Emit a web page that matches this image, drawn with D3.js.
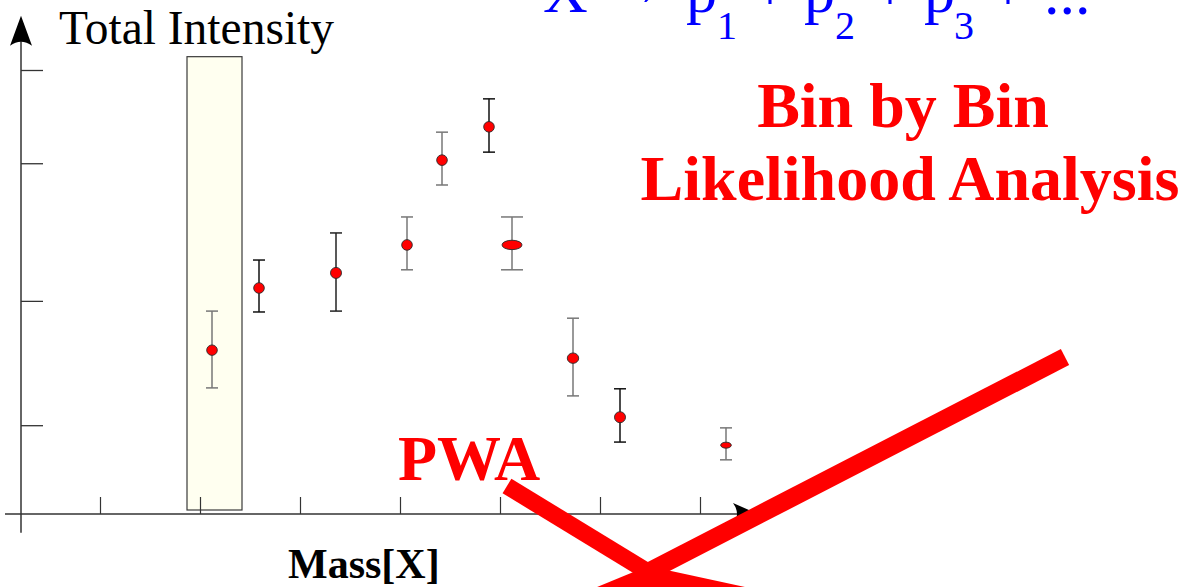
<!DOCTYPE html>
<html>
<head>
<meta charset="utf-8">
<script src="https://cdn.jsdelivr.net/npm/d3@7"></script>
<style>
  html, body { margin: 0; padding: 0; background: #ffffff; }
  svg { display: block; }
</style>
</head>
<body>
<svg id="chart" width="1181" height="587"></svg>
<script>
// Measured intensity per mass bin, with upper / lower error limits
const massBins  = [2.12, 2.59, 3.36, 4.07, 4.42, 4.89, 5.12, 5.73, 6.20, 7.26];
const intensity = [36.9, 50.9, 54.3, 60.6, 79.7, 87.2, 60.6, 35.1, 21.8, 15.5];
const errHigh   = [45.7, 57.2, 63.3, 66.9, 86.0, 93.5, 66.9, 44.1, 28.2, 19.4];
const errLow    = [28.4, 45.5, 45.7, 55.0, 74.1, 81.5, 55.0, 26.6, 16.2, 12.2];

// The single bin singled out for the fit
const selectedBin = [1.87, 2.42];
const selectedTop = 103;

// Axis ticks (unlabelled)
const xTicks = [1, 2, 3, 4, 5, 6, 7];
const yTicks = [20, 48, 79, 100];

const svg = d3.select("#chart");
const serif = "'Liberation Serif', 'Times New Roman', Times, serif";

const x = d3.scaleLinear().domain([0, 7]).range([0, 700]);
const y = d3.scaleLinear().domain([0, 100]).range([514, 70]);

// Marker styling per point
const markerRx  = [5.3, 5.3, 5.5, 5.3, 5.3, 5.3, 10, 5.7, 5.5, 5.3];
const markerRy  = [5.2, 5.3, 5.5, 5.3, 5.3, 5.3, 4.7, 5.2, 5.5, 3];
const capHalf   = [6, 6, 6, 6, 6, 6, 11, 6, 6, 6];
const barColour = ["#777", "#111", "#222", "#777", "#777", "#111", "#777", "#777", "#111", "#777"];

// Highlighted bin
svg.append("rect")
  .attr("x", x(selectedBin[0]))
  .attr("y", y(selectedTop))
  .attr("width", x(selectedBin[1]) - x(selectedBin[0]))
  .attr("height", y(0.9) - y(selectedTop))
  .attr("fill", "#fffff0")
  .attr("stroke", "#3a3a3a")
  .attr("stroke-width", 1.2);

// Axis lines
svg.append("line")
  .attr("x1", x(0.05)).attr("x2", x(7.42))
  .attr("y1", y(0)).attr("y2", y(0))
  .attr("stroke", "#333").attr("stroke-width", 1.5);
svg.append("line")
  .attr("x1", x(0.21)).attr("x2", x(0.21))
  .attr("y1", y(-4.2)).attr("y2", y(106.5))
  .attr("stroke", "#333").attr("stroke-width", 1.5);

// Ticks via d3 axes, labels suppressed
const xAxis = svg.append("g")
  .attr("transform", `translate(0,${y(0)})`)
  .call(d3.axisBottom(x).tickValues(xTicks).tickSize(-17).tickFormat(""));
xAxis.select(".domain").remove();
xAxis.selectAll(".tick line").attr("stroke", "#333").attr("stroke-width", 1.2);

const yAxis = svg.append("g")
  .attr("transform", `translate(${x(0.21)},0)`)
  .call(d3.axisRight(y).tickValues(yTicks).tickSize(22).tickFormat(""));
yAxis.select(".domain").remove();
yAxis.selectAll(".tick line").attr("stroke", "#333").attr("stroke-width", 1.3);

// Arrowheads with a concave back
const ax = x(0.21), atip = y(112.2);
svg.append("path")
  .attr("d", `M${ax},${atip} L${ax + 11},${atip + 30} Q${ax},${atip + 22} ${ax - 11},${atip + 30} Z`)
  .attr("fill", "#000");
const xtip = x(7.58), xy0 = y(0);
svg.append("path")
  .attr("d", `M${xtip},${xy0} L${xtip - 25},${xy0 - 11} Q${xtip - 17},${xy0} ${xtip - 25},${xy0 + 11} Z`)
  .attr("fill", "#000");

// Error bars
const pts = massBins.map((m, i) => ({ m, v: intensity[i], hi: errHigh[i], lo: errLow[i], i }));
const bars = svg.append("g").selectAll("g").data(pts).join("g")
  .attr("stroke", d => barColour[d.i]).attr("stroke-width", 1.5);
bars.append("line")
  .attr("x1", d => x(d.m)).attr("x2", d => x(d.m))
  .attr("y1", d => y(d.hi)).attr("y2", d => y(d.lo));
bars.append("line")
  .attr("x1", d => x(d.m) - capHalf[d.i]).attr("x2", d => x(d.m) + capHalf[d.i])
  .attr("y1", d => y(d.hi)).attr("y2", d => y(d.hi));
bars.append("line")
  .attr("x1", d => x(d.m) - capHalf[d.i]).attr("x2", d => x(d.m) + capHalf[d.i])
  .attr("y1", d => y(d.lo)).attr("y2", d => y(d.lo));

// Points
svg.append("g").selectAll("ellipse").data(pts).join("ellipse")
  .attr("cx", d => x(d.m)).attr("cy", d => y(d.v))
  .attr("rx", d => markerRx[d.i]).attr("ry", d => markerRy[d.i])
  .attr("fill", "#ff0000").attr("stroke", "#2a2a2a").attr("stroke-width", 0.9);

// Axis titles
svg.append("text")
  .attr("x", 59).attr("y", 44)
  .attr("font-family", serif).attr("font-size", 47.5)
  .attr("fill", "#000").text("Total Intensity");
svg.append("text")
  .attr("x", 288).attr("y", 578)
  .attr("font-family", serif).attr("font-size", 42).attr("font-weight", "bold")
  .attr("fill", "#000").text("Mass[X]");

// Decay formula X → p1 + p2 + p3 + ... (runs off the top edge)
const blue = "#0000ff";
const formula = [
  { t: "X", x: 543, y: 12, s: 62, a: "start" },
  { t: "\u2192", x: 667, y: 5, s: 62, a: "end" },
  { t: "p", x: 686, y: 12, s: 62, a: "start" },
  { t: "1", x: 717, y: 39, s: 40, a: "start" },
  { t: "+", x: 770, y: 10, s: 62, a: "middle" },
  { t: "p", x: 804, y: 12, s: 62, a: "start" },
  { t: "2", x: 835, y: 39, s: 40, a: "start" },
  { t: "+", x: 890, y: 10, s: 62, a: "middle" },
  { t: "p", x: 924, y: 12, s: 62, a: "start" },
  { t: "3", x: 954, y: 39, s: 40, a: "start" },
  { t: "+", x: 1008, y: 10, s: 62, a: "middle" },
  { t: "...", x: 1044, y: 14, s: 62, a: "start" }
];
svg.append("g").selectAll("text").data(formula).join("text")
  .attr("x", d => d.x).attr("y", d => d.y)
  .attr("font-family", serif).attr("font-size", d => d.s)
  .attr("text-anchor", d => d.a)
  .attr("fill", blue).text(d => d.t);

// Red headings
const red = "#ff0000";
svg.append("text")
  .attr("x", 903).attr("y", 127).attr("text-anchor", "middle")
  .attr("font-family", serif).attr("font-size", 64).attr("font-weight", "bold")
  .attr("fill", red).text("Bin by Bin");
svg.append("text")
  .attr("x", 910).attr("y", 200).attr("text-anchor", "middle")
  .attr("font-family", serif).attr("font-size", 64).attr("font-weight", "bold")
  .attr("fill", red).text("Likelihood Analysis");
svg.append("text")
  .attr("x", 398).attr("y", 480)
  .attr("font-family", serif).attr("font-size", 64).attr("font-weight", "bold")
  .attr("fill", red).text("PWA");

// Converging red arrows
const meet = [648, 572];
svg.append("line")
  .attr("x1", 507).attr("y1", 486).attr("x2", meet[0]).attr("y2", meet[1])
  .attr("stroke", red).attr("stroke-width", 17);
svg.append("line")
  .attr("x1", 1065).attr("y1", 357).attr("x2", meet[0]).attr("y2", meet[1])
  .attr("stroke", red).attr("stroke-width", 18);
svg.append("path")
  .attr("d", `M585,592 L${meet[0]},${meet[1] - 6} L768,592 Z`)
  .attr("fill", red);
</script>
</body>
</html>
